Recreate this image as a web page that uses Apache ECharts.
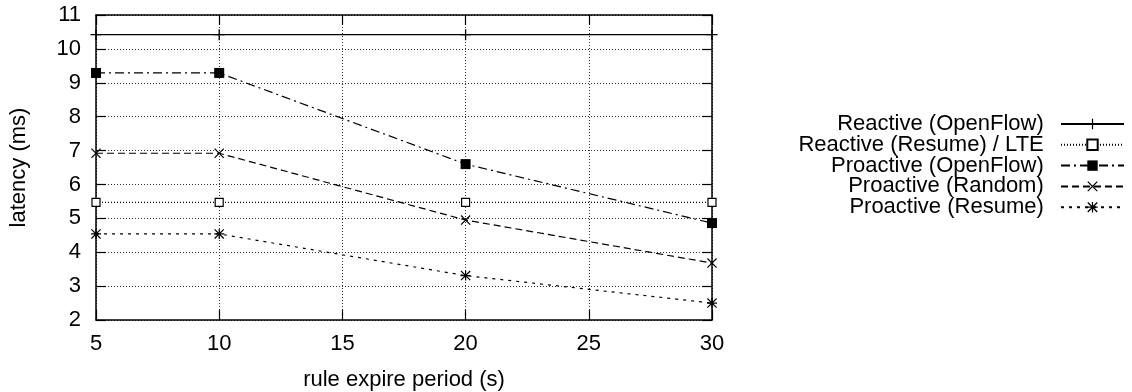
<!DOCTYPE html>
<html><head><meta charset="utf-8">
<script src="https://cdn.jsdelivr.net/npm/echarts@6/dist/echarts.min.js"></script>
<style>html,body{margin:0;padding:0;background:#fff}#c{width:1132px;height:392px}</style>
</head><body><div id="c"></div>
<script>
// ---- data ----
const periods = [5, 10, 20, 30];
const reactiveOpenFlow = [10.42, 10.42, 10.42, 10.42];
const reactiveResumeLTE = [5.47, 5.47, 5.47, 5.47];
const proactiveOpenFlow = [9.29, 9.29, 6.6, 4.86];
const proactiveRandom = [6.92, 6.92, 4.95, 3.68];
const proactiveResume = [4.54, 4.54, 3.31, 2.5];
const seriesNames = ['Reactive (OpenFlow)', 'Reactive (Resume) / LTE', 'Proactive (OpenFlow)', 'Proactive (Random)', 'Proactive (Resume)'];
const xAxisName = 'rule expire period (s)';
const yAxisName = 'latency (ms)';
const xMin = 5, xMax = 30, xStep = 5;
const yMin = 2, yMax = 11, yStep = 1;

// ---- styling ----
const FONT = 'Liberation Sans, Arial, Helvetica, sans-serif';
const FS = 22;
const PLUS = 'path://M4.4,0H5.6V4.4H10V5.6H5.6V10H4.4V5.6H0V4.4H4.4Z';
const CROSS = 'path://M0,0.85L0.85,0L10,9.15L9.15,10Z M9.15,0L10,0.85L0.85,10L0,9.15Z';
const STAR = 'path://M4.4,0H5.6V10H4.4Z M0,4.4H10V5.6H0Z M0,0.85L0.85,0L10,9.15L9.15,10Z M9.15,0L10,0.85L0.85,10L0,9.15Z';

function pts(vals) { return periods.map((p, i) => [p, vals[i]]); }

function mk(name, vals, symbol, size, dash, itemStyle) {
  return {
    name, type: 'line', data: pts(vals), symbol, symbolSize: size, showSymbol: true,
    clip: false, animation: false, silent: true,
    lineStyle: { color: '#000', width: 1.2, type: dash },
    itemStyle: itemStyle || { color: '#000' },
    z: 5
  };
}

const series = [
  mk(seriesNames[0], reactiveOpenFlow, PLUS, 11, 'solid'),
  mk(seriesNames[1], reactiveResumeLTE, 'rect', 8, [1, 2], { color: '#fff', borderColor: '#000', borderWidth: 1.2 }),
  mk(seriesNames[2], proactiveOpenFlow, 'rect', 10, [9, 4, 2, 4]),
  mk(seriesNames[3], proactiveRandom, CROSS, 10, [7, 4]),
  mk(seriesNames[4], proactiveResume, STAR, 10, [3, 5])
];

const axisLine = { show: true, onZero: false, lineStyle: { color: '#000', width: 1.5 } };
const tick = { show: true, inside: true, length: 10, lineStyle: { color: '#000', width: 1.2 } };
const grid = { show: true, lineStyle: { color: '#333', width: 1, type: [1, 2] } };

const chart = echarts.init(document.getElementById('c'), null, { renderer: 'canvas' });
chart.setOption({
  animation: false,
  backgroundColor: '#fff',
  textStyle: { fontFamily: FONT },
  grid: { left: 96, right: 420, top: 15, bottom: 72, containLabel: false, outerBoundsMode: 'none' },
  xAxis: [
    { type: 'value', min: xMin, max: xMax, interval: xStep, position: 'bottom',
      axisLine, axisTick: tick, splitLine: grid,
      axisLabel: { color: '#000', fontSize: FS, fontFamily: FONT, margin: 13 },
      name: xAxisName, nameLocation: 'middle', nameGap: 49,
      nameTextStyle: { color: '#000', fontSize: FS, fontFamily: FONT } },
    { type: 'value', min: xMin, max: xMax, interval: xStep, position: 'top',
      axisLine, axisTick: tick, splitLine: { show: false }, axisLabel: { show: false } }
  ],
  yAxis: [
    { type: 'value', min: yMin, max: yMax, interval: yStep, position: 'left',
      axisLine, axisTick: tick, splitLine: grid,
      axisLabel: { color: '#000', fontSize: FS, fontFamily: FONT, margin: 15 },
      name: yAxisName, nameLocation: 'middle', nameGap: 66,
      nameTextStyle: { color: '#000', fontSize: FS, fontFamily: FONT } },
    { type: 'value', min: yMin, max: yMax, interval: yStep, position: 'right',
      axisLine, axisTick: tick, splitLine: { show: false }, axisLabel: { show: false } }
  ],
  legend: {
    orient: 'vertical', align: 'right', right: 2, top: 108,
    itemWidth: 63, itemHeight: 13, itemGap: -1.2,
    selectedMode: false,
    formatter: n => n + '  ',
    textStyle: { color: '#000', fontSize: FS, fontFamily: FONT, lineHeight: 20 },
    data: seriesNames
  },
  series
});
</script></body></html>
